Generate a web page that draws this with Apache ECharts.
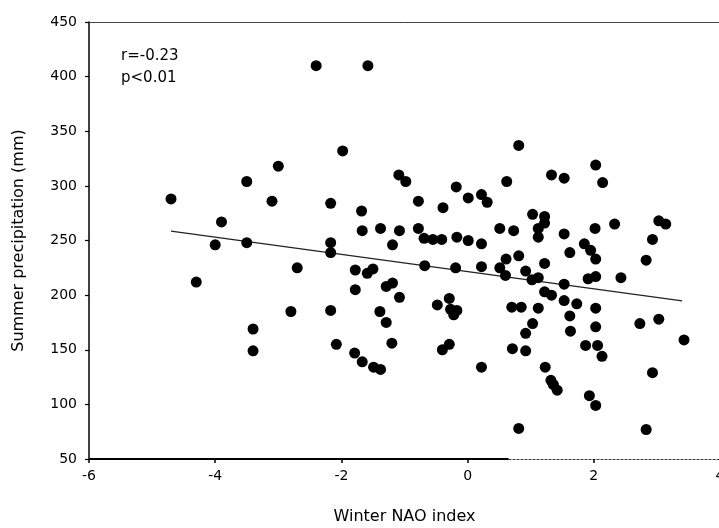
<!DOCTYPE html>
<html>
<head>
<meta charset="utf-8">
<script src="https://cdn.jsdelivr.net/npm/echarts@6/dist/echarts.min.js"></script>
<style>html,body{margin:0;padding:0;background:#fff}#c{width:719px;height:528px}</style>
</head>
<body>
<div id="c"></div>
<script>
// Winter NAO index (x) and summer precipitation in mm (y)
var naoIndex = [-4.7,-4.3,-3.9,-4.0,-3.5,-3.5,-3.4,-3.4,-3.1,-3.0,-2.8,-2.7,-2.4,-2.17,-2.17,-2.17,-2.17,-2.08,-1.98,-1.78,-1.78,-1.79,-1.68,-1.67,-1.67,-1.58,-1.59,-1.5,-1.49,-1.38,-1.39,-1.38,-1.29,-1.29,-1.19,-1.19,-1.2,-1.09,-1.08,-1.08,-0.98,-0.78,-0.78,-0.69,-0.68,-0.55,-0.41,-0.39,-0.48,-0.4,-0.29,-0.29,-0.27,-0.17,-0.22,-0.18,-0.17,-0.19,0.01,0.01,0.22,0.31,0.22,0.22,0.22,0.62,0.51,0.61,0.51,0.6,0.73,0.81,0.81,0.7,0.85,0.71,0.92,0.92,0.92,0.81,1.03,1.02,1.03,1.12,1.12,1.12,1.12,1.22,1.22,1.22,1.22,1.23,1.33,1.33,1.32,1.36,1.42,1.53,1.53,1.53,1.53,1.62,1.62,1.63,1.73,1.85,1.95,2.03,1.91,2.03,2.02,2.03,2.03,2.03,1.87,2.06,2.13,2.14,1.93,2.03,2.33,2.43,2.73,2.83,2.83,2.93,2.93,3.03,3.14,3.03,3.43];
var precipitation = [288,212,267,246,304,248,169,149,286,318,185,225,410,284,248,239,186,155,332,223,205,147,277,259,139,410,220,224,134,261,185,132,208,175,211,246,156,310,259,198,304,286,261,252,227,251,251,280,191,150,155,197,187,186,182,299,253,225,289,250,292,285,247,226,134,304,261,233,225,218,259,337,236,189,189,151,149,222,165,78,274,214,174,261,253,216,188,272,266,229,203,134,310,200,122,118,113,307,256,210,195,239,181,167,192,247,241,233,215,217,261,319,188,171,154,154,144,303,108,99,265,216,174,232,77,251,129,268,265,178,159];
// regression line end points
var trendX = [-4.7, 3.4];
var trendY = [258.6, 194.8];
// solid part of the bottom axis line (scan artefact)
var axisSolidX = [-6, 0.65];
var xTicks = [-6, -4, -2, 0, 2, 4];
var yTicks = [50, 100, 150, 200, 250, 300, 350, 400, 450];

var points = naoIndex.map(function (x, i) { return [x, precipitation[i]]; });
var trend = trendX.map(function (x, i) { return [x, trendY[i]]; });
var axisSolid = axisSolidX.map(function (x) { return [x, yTicks[0]]; });

var chart = echarts.init(document.getElementById('c'), null, { renderer: 'canvas' });
var font = '"DejaVu Sans", sans-serif';
chart.setOption({
  animation: false,
  backgroundColor: '#fff',
  title: {
    text: 'r=-0.23\np<0.01',
    left: 116, top: 40,
    textStyle: { fontFamily: font, fontSize: 15, fontWeight: 'normal', color: '#000', lineHeight: 22 }
  },
  grid: { left: 89, right: -1, top: 22, bottom: 69, containLabel: false, outerBoundsMode: 'none' },
  xAxis: [{
    type: 'value', min: -6, max: 4, interval: 2,
    name: 'Winter NAO index', nameLocation: 'middle', nameGap: 50,
    nameTextStyle: { fontFamily: font, fontSize: 16, color: '#000' },
    axisLine: { onZero: false, lineStyle: { color: '#333', width: 1.2, type: [2, 2] } },
    axisTick: { show: true, inside: false, length: 4, lineStyle: { color: '#000', width: 1.5 } },
    axisLabel: { fontFamily: font, fontSize: 14, color: '#000', margin: 10 },
    splitLine: { show: false }
  }, {
    type: 'value', min: -6, max: 4, position: 'top',
    axisLine: { show: true, onZero: false, lineStyle: { color: '#444', width: 1 } },
    axisTick: { show: false }, axisLabel: { show: false }, splitLine: { show: false }
  }],
  yAxis: {
    type: 'value', min: 50, max: 450, interval: 50,
    name: 'Summer precipitation (mm)', nameLocation: 'middle', nameGap: 62,
    nameTextStyle: { fontFamily: font, fontSize: 16, color: '#000' },
    axisLine: { show: true, onZero: false, lineStyle: { color: '#000', width: 1.5 } },
    axisTick: { show: true, inside: false, length: 4, lineStyle: { color: '#000', width: 1.2 } },
    axisLabel: { fontFamily: font, fontSize: 14, color: '#000', margin: 12 },
    splitLine: { show: false }
  },
  series: [{
    type: 'line', data: axisSolid, symbol: 'none', silent: true,
    lineStyle: { color: '#000', width: 2 }, z: 1
  }, {
    type: 'scatter', data: points, symbol: 'circle', symbolSize: 11,
    itemStyle: { color: '#000', opacity: 1 }, z: 3
  }, {
    type: 'line', data: trend, symbol: 'none',
    lineStyle: { color: '#222', width: 1.2 }, z: 2
  }]
});
</script>
</body>
</html>
